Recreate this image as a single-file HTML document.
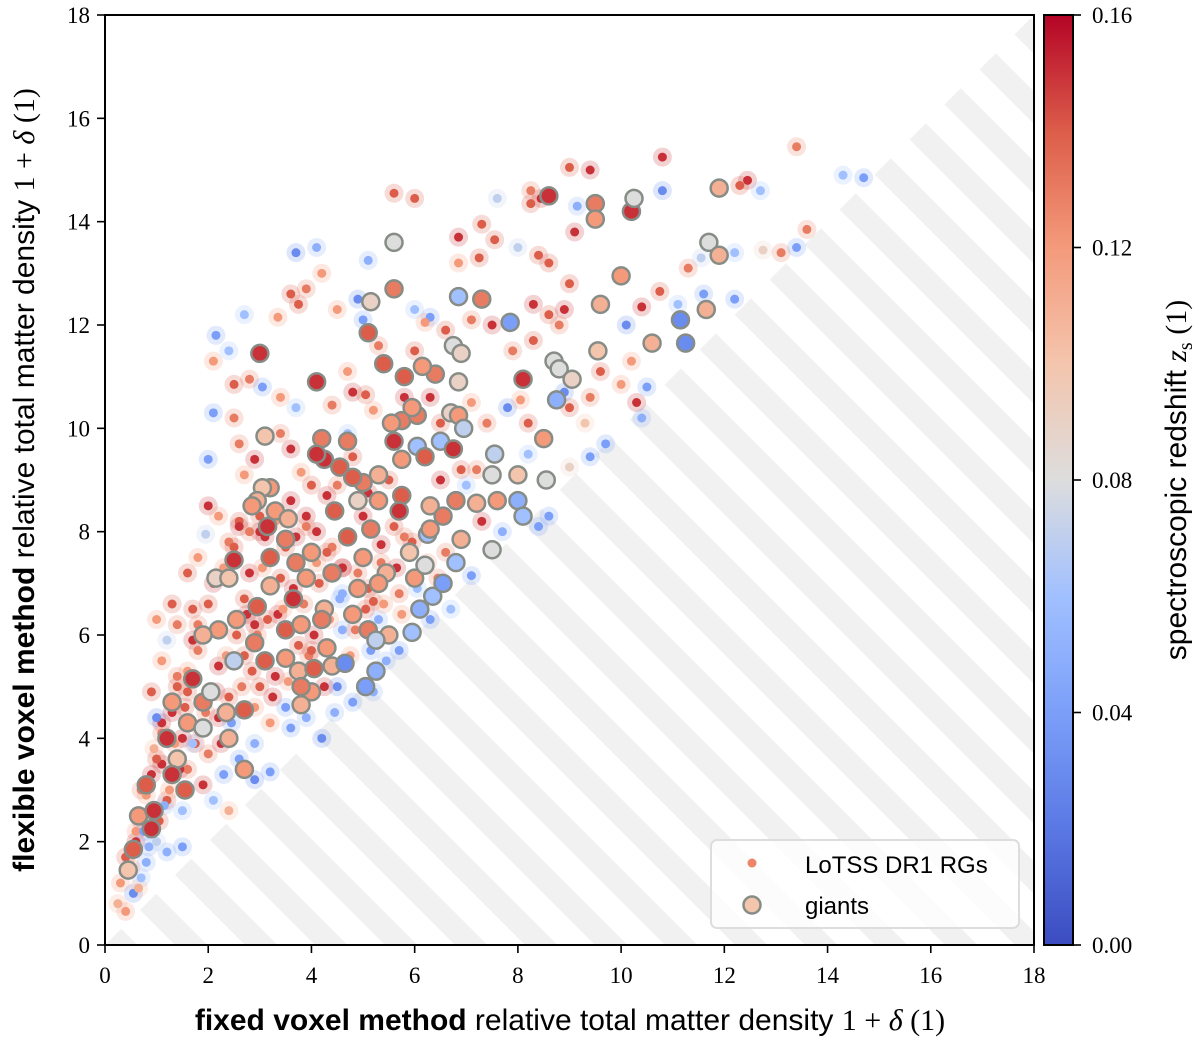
<!DOCTYPE html>
<html><head><meta charset="utf-8"><style>
body{margin:0;background:#fff}
svg text{font-family:"Liberation Serif",serif}
.sans{font-family:"Liberation Sans","DejaVu Sans",sans-serif}
</style></head><body>
<svg id="chart" width="1200" height="1039" xmlns="http://www.w3.org/2000/svg">
<defs>
<pattern id="stripes" patternUnits="userSpaceOnUse" width="49.5" height="49.5" patternTransform="rotate(-45)"><rect x="0" y="0" width="23" height="49.5" fill="#f1f1f1"/></pattern>
<linearGradient id="cw" x1="0" y1="1" x2="0" y2="0">
<stop offset="0" stop-color="#3b4cc0"/><stop offset="0.125" stop-color="#5a78e4"/><stop offset="0.25" stop-color="#7b9ff9"/><stop offset="0.375" stop-color="#a1c0ff"/><stop offset="0.5" stop-color="#dddddd"/><stop offset="0.625" stop-color="#f4c5ad"/><stop offset="0.75" stop-color="#f49a7b"/><stop offset="0.875" stop-color="#dc5d4a"/><stop offset="1" stop-color="#b40426"/>
</linearGradient>
<clipPath id="plotclip"><rect x="105" y="15" width="929" height="930"/></clipPath>
</defs>
<g id="stripeArea"></g>
<g id="smallG" clip-path="url(#plotclip)"></g>
<g id="giantG" clip-path="url(#plotclip)"></g>
<rect x="105" y="15" width="929" height="930" fill="none" stroke="#000" stroke-width="2"/>
<g id="axes"></g>
<g>
<rect x="711" y="840" width="308" height="88" rx="6" fill="#fff" fill-opacity="0.8" stroke="#ddd" stroke-width="2"/>
<circle cx="752" cy="863" r="4.5" fill="#ee8468"/>
<text class="sans" x="805" y="873" font-size="24">LoTSS DR1 RGs</text>
<circle cx="752" cy="905" r="8.5" fill="#f4c5ad" stroke="#878d86" stroke-width="2.5"/>
<text class="sans" x="805" y="914" font-size="24">giants</text>
</g>
<rect x="1044" y="15" width="29" height="930" fill="url(#cw)" stroke="#000" stroke-width="2"/>
<g id="cbticks"></g>
<text x="570" y="1030" text-anchor="middle" font-size="30"><tspan class="sans" font-weight="bold">fixed voxel method</tspan><tspan class="sans"> relative total matter density </tspan><tspan>1 + <tspan font-style="italic">δ</tspan> (1)</tspan></text>
<text transform="translate(34,480) rotate(-90)" text-anchor="middle" font-size="30"><tspan class="sans" font-weight="bold">flexible voxel method</tspan><tspan class="sans"> relative total matter density </tspan><tspan>1 + <tspan font-style="italic">δ</tspan> (1)</tspan></text>
<text transform="translate(1186,480) rotate(-90)" text-anchor="middle" font-size="30"><tspan class="sans">spectroscopic redshift </tspan><tspan font-style="italic">z</tspan><tspan font-size="20" dy="6">s</tspan><tspan dy="-6"> (1)</tspan></text>
</svg>
<script>
const xTicks=[0,2,4,6,8,10,12,14,16,18];
const yTicks=[0,2,4,6,8,10,12,14,16,18];
const cbTicks=[0.00,0.04,0.08,0.12,0.16];
const cbTickLabels=["0.00","0.04","0.08","0.12","0.16"];
// small points: x, y, z
const smallX=[13.4,10.8,9.0,9.4,14.3,14.7,12.3,12.45,5.6,6.0,7.6,8.25,8.45,9.15,10.8,12.7,8.25,7.3,7.55,8.0,6.85,4.1,3.7,5.1,6.85,7.25,8.4,8.6,9.1,11.3,11.55,12.2,12.75,13.1,13.6,13.4,3.6,3.9,4.2,2.15,2.1,2.7,3.75,3.35,5.0,4.9,6.0,6.3,7.1,7.5,8.3,8.6,8.9,9.0,8.8,10.1,10.4,11.1,12.2,11.6,10.75,2.8,2.5,3.05,2.4,3.4,3.7,4.4,4.8,5.2,5.05,6.3,7.1,7.4,7.8,8.2,8.05,9.0,9.3,9.4,10.3,10.0,10.4,9.7,9.4,2.0,2.6,3.4,2.7,2.9,3.8,4.0,4.5,4.3,5.1,5.5,4.8,6.9,7.2,7.0,8.2,9.0,8.6,8.4,2.0,2.2,2.6,1.95,2.4,3.6,3.9,4.1,4.4,5.35,5.6,5.8,6.6,7.1,1.6,1.8,2.8,3.05,3.4,4.6,5.7,5.2,4.6,1.4,1.7,2.7,3.35,4.05,4.6,5.3,5.7,6.3,6.7,1.2,1.1,1.4,2.2,2.7,3.3,4.5,4.8,5.2,0.9,1.6,2.2,2.9,3.6,3.9,4.2,3.2,1.1,1.5,0.95,2.0,2.6,2.9,3.2,1.1,1.6,1.9,2.1,2.4,0.7,1.2,1.5,0.6,1.0,1.2,1.5,0.4,0.8,0.3,0.55,0.25,0.4,0.7,6.0,6.6,6.2,4.5,5.3,4.7,5.8,6.5,8.9,9.6,10.2,10.5,7.9,8.3,2.1,2.5,3.6,4.7,7.3,7.7,6.5,5.0,3.0,2.9,3.0,2.4,1.8,1.0,1.3,
0.5,0.6,0.7,0.8,0.9,1.0,1.1,1.3,1.4,1.6,1.7,1.8,2.0,2.1,2.3,2.5,2.6,2.8,3.0,3.1,3.3,3.5,3.7,3.9,4.1,4.3,4.6,4.9,5.1,5.4,0.65,0.85,1.05,1.25,1.45,1.75,1.95,2.15,2.35,2.55,2.75,2.95,3.15,3.45,3.65,3.85,4.15,4.35,4.55,4.85,5.15,5.45,5.75,6.05,0.75,1.15,1.35,1.55,1.85,2.25,2.45,2.65,2.85,3.25,3.55,3.75,3.95,4.25,4.45,4.75,5.05,5.35,5.65,5.95,6.25,6.45,1.0,1.7,2.3,2.9,3.5,4.0];
const smallY=[15.45,15.25,15.05,15.0,14.9,14.85,14.7,14.8,14.55,14.45,14.45,14.35,14.45,14.3,14.6,14.6,14.6,13.95,13.65,13.5,13.7,13.5,13.4,13.25,13.2,13.3,13.35,13.2,13.8,13.1,13.3,13.4,13.45,13.4,13.85,13.5,12.6,12.7,13.0,11.8,11.3,12.2,12.4,12.15,12.1,12.5,12.3,12.15,12.1,12.0,12.4,12.2,12.3,12.8,12.0,12.0,12.35,12.4,12.5,12.6,12.65,10.95,10.85,10.8,11.5,10.6,10.4,10.45,10.7,10.35,10.65,10.6,10.5,10.1,10.4,10.1,10.55,10.4,10.1,10.6,10.5,10.85,10.2,9.7,9.45,9.4,9.7,9.9,9.1,9.4,9.15,8.9,8.9,8.7,8.75,9.0,9.45,9.2,9.2,8.9,9.5,9.25,8.3,8.1,8.5,8.3,8.2,7.95,7.8,8.6,8.3,8.0,7.7,7.75,8.1,7.9,7.6,7.15,7.2,7.5,7.2,7.3,7.1,7.3,6.8,6.65,6.8,6.2,6.5,6.7,6.4,6.0,6.1,6.3,5.7,6.3,6.5,5.9,5.5,5.2,5.4,5.6,5.2,5.0,4.7,4.9,4.9,4.9,4.4,4.6,4.2,4.4,4.0,4.3,4.3,4.0,3.8,3.7,3.6,3.2,3.35,3.5,3.4,3.1,2.8,2.6,3.0,2.8,2.6,2.2,2.0,1.8,1.9,1.7,1.6,1.2,1.0,0.8,0.65,1.3,11.5,11.9,12.05,12.3,11.6,11.1,10.6,10.1,10.7,11.1,11.3,10.8,11.5,11.7,10.3,10.2,9.6,9.9,8.2,8.0,9.0,8.3,8.0,6.2,5.0,4.8,5.7,6.3,6.6,
1.5,2.0,2.4,2.9,3.3,3.6,4.1,4.5,5.0,5.3,5.9,6.2,6.6,7.0,7.3,7.7,8.1,8.0,8.3,7.9,8.2,7.7,7.9,8.1,7.4,7.6,7.3,7.2,6.9,6.6,1.1,1.9,2.4,3.0,3.4,3.9,4.5,4.9,5.6,6.0,6.4,6.0,6.3,6.5,6.9,6.6,7.0,6.3,6.7,6.1,5.7,5.5,6.4,6.9,2.2,2.7,3.9,4.6,4.2,3.9,4.3,5.0,5.3,4.8,5.1,5.8,5.6,5.0,4.5,5.6,6.5,7.4,7.3,7.8,7.4,7.1,4.4,3.9,3.3,3.9,4.6,5.7];
const smallZ=[0.13,0.15,0.14,0.15,0.06,0.04,0.14,0.15,0.14,0.14,0.07,0.14,0.15,0.05,0.03,0.06,0.13,0.14,0.14,0.07,0.15,0.05,0.03,0.05,0.12,0.14,0.14,0.14,0.15,0.13,0.07,0.06,0.09,0.13,0.13,0.04,0.14,0.13,0.12,0.04,0.12,0.06,0.14,0.12,0.04,0.03,0.06,0.04,0.13,0.15,0.15,0.14,0.15,0.14,0.13,0.03,0.15,0.06,0.04,0.04,0.14,0.13,0.14,0.04,0.06,0.12,0.06,0.13,0.15,0.12,0.14,0.15,0.12,0.13,0.03,0.14,0.12,0.14,0.1,0.13,0.15,0.12,0.05,0.04,0.04,0.04,0.13,0.13,0.12,0.15,0.12,0.14,0.13,0.15,0.15,0.14,0.14,0.14,0.13,0.06,0.06,0.09,0.04,0.04,0.15,0.12,0.14,0.07,0.13,0.15,0.15,0.15,0.13,0.15,0.14,0.13,0.13,0.04,0.14,0.12,0.15,0.12,0.14,0.15,0.13,0.14,0.05,0.13,0.14,0.14,0.15,0.15,0.05,0.05,0.04,0.04,0.06,0.07,0.12,0.13,0.15,0.14,0.15,0.03,0.04,0.05,0.14,0.14,0.15,0.12,0.04,0.05,0.03,0.12,0.15,0.15,0.11,0.13,0.04,0.03,0.04,0.15,0.13,0.15,0.06,0.11,0.13,0.14,0.06,0.12,0.07,0.05,0.04,0.14,0.05,0.12,0.03,0.11,0.12,0.06,0.14,0.14,0.12,0.12,0.13,0.12,0.15,0.14,0.03,0.14,0.12,0.04,0.13,0.14,0.04,0.13,0.15,0.06,0.15,0.05,0.15,0.15,0.15,0.15,0.14,0.14,0.13,0.12,0.14,
0.13,0.15,0.14,0.12,0.15,0.14,0.13,0.15,0.14,0.12,0.15,0.13,0.14,0.15,0.12,0.14,0.15,0.13,0.14,0.15,0.12,0.14,0.15,0.13,0.12,0.14,0.15,0.13,0.14,0.12,0.11,0.05,0.14,0.12,0.15,0.14,0.13,0.15,0.12,0.14,0.15,0.13,0.14,0.12,0.15,0.13,0.14,0.12,0.05,0.13,0.04,0.05,0.12,0.06,0.04,0.05,0.12,0.14,0.13,0.15,0.04,0.13,0.14,0.15,0.12,0.14,0.13,0.15,0.05,0.12,0.14,0.13,0.15,0.14,0.12,0.13,0.03,0.06,0.04,0.05,0.04,0.14];
// giants
const giantX=[8.6,9.5,9.5,10.2,10.25,11.9,5.6,11.7,11.9,10,5.6,5.15,6.85,7.3,3,5.1,9.6,7.85,11.65,10.6,11.15,11.25,6.75,6.9,5.4,4.1,5.8,6.4,6.15,6.85,8.1,8.7,8.8,9.05,9.55,8.75,3.1,4.2,4.7,4.25,4.1,4.55,5.75,6.05,5.95,5.55,5.6,6.05,6.7,6.85,6.5,6.75,6.2,6.95,5.75,5.3,5.0,4.8,3.2,3.05,2.95,2.85,3.3,3.55,4.45,4.9,5.3,5.75,5.7,6.3,6.55,6.8,7.2,7.55,7.5,7.6,8.0,8.55,8.0,8.1,8.5,3.15,3.5,3.2,2.5,2.15,2.4,3.7,4.0,4.7,5.15,5.0,5.45,5.3,5.9,6.0,6.35,6.55,6.2,6.8,6.9,6.25,6.3,7.5,3.2,3.9,4.4,4.9,4.25,3.65,2.95,2.55,2.2,1.9,2.5,2.9,3.5,3.8,4.2,4.8,5.1,5.5,5.25,5.95,4.3,3.5,3.1,3.75,4.05,4.4,4.65,4.0,3.8,1.7,1.3,1.9,2.05,2.7,2.35,1.6,1.9,1.2,2.4,1.4,2.7,0.8,1.3,1.55,0.65,0.95,0.9,0.55,0.45,5.05,3.8,5.25,6.1];
const giantY=[14.5,14.35,14.05,14.2,14.45,14.65,13.6,13.6,13.35,12.95,12.7,12.45,12.55,12.5,11.45,11.85,12.4,12.05,12.3,11.65,12.1,11.65,11.6,11.45,11.25,10.9,11,11.05,11.2,10.9,10.95,11.3,11.15,10.95,11.5,10.55,9.85,9.8,9.75,9.4,9.5,9.25,10.15,10.25,10.4,10.1,9.75,9.65,10.3,10.25,9.75,9.6,9.45,10.0,9.4,9.1,8.95,9.05,8.85,8.85,8.6,8.5,8.4,8.25,8.4,8.6,8.6,8.7,8.4,8.5,8.3,8.6,8.55,9.5,9.1,8.6,9.1,9.0,8.6,8.3,9.8,8.1,7.85,7.5,7.45,7.1,7.1,7.4,7.6,7.9,8.05,7.5,7.2,7.0,7.6,7.1,6.75,7.0,7.35,7.4,7.85,7.95,8.05,7.65,6.95,7.1,7.2,6.9,6.5,6.7,6.55,6.3,6.1,6.0,5.5,5.85,6.1,6.2,6.3,6.4,6.1,6.0,5.9,6.05,5.75,5.55,5.5,5.3,5.35,5.4,5.45,4.9,5.0,5.15,4.7,4.7,4.9,4.55,4.5,4.3,4.2,4.0,4.0,3.6,3.4,3.1,3.3,3.0,2.5,2.6,2.25,1.85,1.45,5.0,4.65,5.3,6.5];
const giantZ=[0.15,0.13,0.12,0.15,0.08,0.11,0.08,0.08,0.11,0.12,0.13,0.09,0.06,0.13,0.15,0.14,0.11,0.04,0.11,0.11,0.03,0.03,0.08,0.09,0.14,0.15,0.14,0.13,0.12,0.09,0.15,0.08,0.08,0.09,0.1,0.05,0.1,0.13,0.13,0.15,0.15,0.14,0.13,0.13,0.12,0.12,0.15,0.06,0.09,0.12,0.06,0.15,0.14,0.07,0.12,0.11,0.13,0.14,0.12,0.1,0.11,0.12,0.12,0.11,0.14,0.09,0.12,0.14,0.15,0.11,0.13,0.13,0.11,0.07,0.08,0.12,0.1,0.08,0.05,0.06,0.12,0.15,0.13,0.14,0.15,0.09,0.1,0.13,0.12,0.14,0.13,0.12,0.11,0.12,0.1,0.12,0.06,0.04,0.08,0.06,0.11,0.06,0.12,0.08,0.11,0.12,0.13,0.12,0.11,0.15,0.14,0.12,0.12,0.11,0.07,0.13,0.14,0.12,0.13,0.12,0.13,0.11,0.07,0.06,0.12,0.12,0.14,0.11,0.14,0.11,0.03,0.12,0.13,0.15,0.12,0.13,0.08,0.14,0.11,0.12,0.08,0.15,0.11,0.1,0.12,0.14,0.15,0.14,0.12,0.15,0.15,0.14,0.1,0.04,0.11,0.05,0.05];

const NS='http://www.w3.org/2000/svg';
const X0=105,X1=1034,Y0=945,Y1=15;
const xs=v=>X0+(v/18)*(X1-X0);
const ys=v=>Y0-(v/18)*(Y0-Y1);
const cbY=v=>945-(v/0.16)*930;
const stops=[[59,76,192],[90,120,228],[123,159,249],[161,192,255],[221,221,221],[244,197,173],[244,154,123],[220,93,74],[180,4,38]];
function cmap(z){let t=Math.max(0,Math.min(1,z/0.16))*8;let i=Math.min(7,Math.floor(t)),f=t-i;
 const a=stops[i],b=stops[i+1];return 'rgb('+a.map((c,k)=>Math.round(c+(b[k]-c)*f)).join(',')+')';}
function mk(tag,attrs,parent){const e=document.createElementNS(NS,tag);for(const k in attrs)e.setAttribute(k,attrs[k]);parent.appendChild(e);return e;}

const sa=document.getElementById('stripeArea');
const tri=mk('polygon',{points:`${xs(0)},${ys(0)} ${xs(18)},${ys(0)} ${xs(18)},${ys(18)}`,fill:'url(#stripes)'},sa);



const sg=document.getElementById('smallG');
for(let i=0;i<smallX.length;i++){
 const c=cmap(smallZ[i]);
 const h=mk('circle',{cx:xs(smallX[i]),cy:ys(smallY[i]),r:9.5,fill:c,'fill-opacity':0.22},sg);
 
 
}
for(let i=0;i<smallX.length;i++){
 const d=mk('circle',{cx:xs(smallX[i]),cy:ys(smallY[i]),r:4.5,fill:cmap(smallZ[i])},sg);
 
 
}
const gg=document.getElementById('giantG');
for(let i=0;i<giantX.length;i++){
 const g=mk('circle',{cx:xs(giantX[i]),cy:ys(giantY[i]),r:8.5,fill:cmap(giantZ[i]),stroke:'#878d86','stroke-width':2.5},gg);
 
 
}
const ax=document.getElementById('axes');
xTicks.forEach(v=>{
 const l=mk('line',{x1:xs(v),x2:xs(v),y1:945,y2:953,stroke:'#000','stroke-width':1.6},ax);
 
 
 const t=mk('text',{x:xs(v),y:983,'text-anchor':'middle','font-size':23},ax);t.textContent=v;
 
 
});
yTicks.forEach(v=>{
 const l=mk('line',{x1:97,x2:105,y1:ys(v),y2:ys(v),stroke:'#000','stroke-width':1.6},ax);
 
 
 const t=mk('text',{x:90,y:ys(v)+8,'text-anchor':'end','font-size':23},ax);t.textContent=v;
 
 
});
const cb=document.getElementById('cbticks');
cbTicks.forEach((v,i)=>{
 const l=mk('line',{x1:1073,x2:1081,y1:cbY(v),y2:cbY(v),stroke:'#000','stroke-width':1.6},cb);
 
 
 const t=mk('text',{x:1092,y:cbY(v)+8,'font-size':23},cb);t.textContent=cbTickLabels[i];
 
 
});
</script>
</body></html>
